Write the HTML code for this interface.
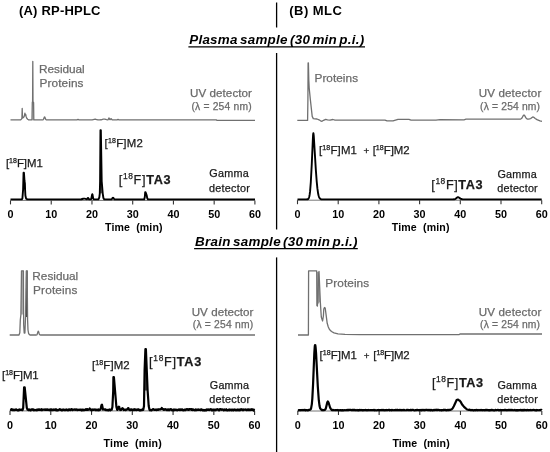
<!DOCTYPE html>
<html><head><meta charset="utf-8"><title>Chromatograms</title><style>
html,body{margin:0;padding:0;background:#fff;}
body{width:550px;height:452px;overflow:hidden;}
svg{display:block;will-change:transform;}
text{font-family:"Liberation Sans",sans-serif;}
.hd{font-weight:bold;fill:#000;}
.tt{font-weight:bold;font-style:italic;fill:#000;word-spacing:-1.8px;}
.tk{font-weight:bold;fill:#000;text-anchor:middle;}
.ax{font-weight:bold;fill:#000;}
.lb{fill:#1a1a1a;stroke:#1a1a1a;stroke-width:0.25px;}
.uvt{fill:#6a6a6a;stroke:#6a6a6a;stroke-width:0.25px;}
</style></head>
<body><svg width="550" height="452" viewBox="0 0 550 452">
<rect width="550" height="452" fill="#fff"/>
<text x="18.94" y="15.20" class="hd" font-size="13.00" letter-spacing="0.207">(A) RP-HPLC</text>
<text x="289.30" y="15.20" class="hd" font-size="13.00" letter-spacing="0.450">(B) MLC</text>
<text x="189.18" y="44.20" class="tt" font-size="13.40" letter-spacing="0.281">Plasma sample (30 min p.i.)</text>
<text x="195.04" y="245.60" class="tt" font-size="13.40" letter-spacing="0.296">Brain sample (30 min p.i.)</text>
<text x="39.05" y="73.00" class="uvt" font-size="11.80" letter-spacing="-0.046">Residual</text>
<text x="39.62" y="87.40" class="uvt" font-size="11.80" letter-spacing="0.075">Proteins</text>
<text x="190.01" y="96.70" class="uvt" font-size="11.60" letter-spacing="0.070">UV detector</text>
<text x="191.41" y="109.60" class="uvt" font-size="10.30" letter-spacing="0.194">(λ = 254 nm)</text>
<text x="5.88" y="167.30" class="lb" font-size="11.40" letter-spacing="-0.013">[<tspan dy="-3.93" font-size="7.07">18</tspan><tspan dy="3.93">F]M1</tspan></text>
<text x="104.55" y="146.70" class="lb" font-size="11.40" letter-spacing="0.207">[<tspan dy="-3.93" font-size="7.07">18</tspan><tspan dy="3.93">F]M2</tspan></text>
<text x="118.66" y="184.00" class="lb" font-size="12.70" letter-spacing="0.688">[<tspan dy="-4.70" font-size="8.38">18</tspan><tspan dy="4.70">F]</tspan><tspan font-weight="bold">TA3</tspan></text>
<text x="209.17" y="177.40" class="lb" font-size="10.80" letter-spacing="0.328">Gamma</text>
<text x="208.98" y="191.50" class="lb" font-size="10.80" letter-spacing="0.252">detector</text>
<text x="105.03" y="230.70" class="ax" font-size="10.60" letter-spacing="0.121">Time  (min)</text>
<text x="314.47" y="82.40" class="uvt" font-size="11.80" letter-spacing="0.042">Proteins</text>
<text x="478.69" y="96.70" class="uvt" font-size="11.60" letter-spacing="0.142">UV detector</text>
<text x="480.09" y="109.60" class="uvt" font-size="10.30" letter-spacing="0.170">(λ = 254 nm)</text>
<text x="318.95" y="153.90" class="lb" font-size="11.40" letter-spacing="0.165">[<tspan dy="-3.93" font-size="7.07">18</tspan><tspan dy="3.93">F]M1</tspan></text>
<text x="363.40" y="153.90" class="lb" font-size="9.80" letter-spacing="0.000">+</text>
<text x="372.67" y="153.90" class="lb" font-size="11.40" letter-spacing="0.006">[<tspan dy="-3.93" font-size="7.07">18</tspan><tspan dy="3.93">F]M2</tspan></text>
<text x="431.25" y="188.50" class="lb" font-size="12.70" letter-spacing="0.587">[<tspan dy="-4.70" font-size="8.38">18</tspan><tspan dy="4.70">F]</tspan><tspan font-weight="bold">TA3</tspan></text>
<text x="497.51" y="177.70" class="lb" font-size="10.80" letter-spacing="0.194">Gamma</text>
<text x="497.28" y="192.00" class="lb" font-size="10.80" letter-spacing="0.206">detector</text>
<text x="391.82" y="230.70" class="ax" font-size="10.60" letter-spacing="0.134">Time  (min)</text>
<text x="32.33" y="280.00" class="uvt" font-size="11.80" letter-spacing="-0.001">Residual</text>
<text x="33.12" y="294.20" class="uvt" font-size="11.80" letter-spacing="0.137">Proteins</text>
<text x="191.64" y="315.50" class="uvt" font-size="11.60" letter-spacing="0.062">UV detector</text>
<text x="192.82" y="328.30" class="uvt" font-size="10.30" letter-spacing="0.199">(λ = 254 nm)</text>
<text x="2.03" y="379.20" class="lb" font-size="11.40" letter-spacing="-0.050">[<tspan dy="-3.93" font-size="7.07">18</tspan><tspan dy="3.93">F]M1</tspan></text>
<text x="91.95" y="368.60" class="lb" font-size="11.40" letter-spacing="0.115">[<tspan dy="-3.93" font-size="7.07">18</tspan><tspan dy="3.93">F]M2</tspan></text>
<text x="149.04" y="365.50" class="lb" font-size="12.70" letter-spacing="0.725">[<tspan dy="-4.70" font-size="8.38">18</tspan><tspan dy="4.70">F]</tspan><tspan font-weight="bold">TA3</tspan></text>
<text x="209.82" y="388.70" class="lb" font-size="10.80" letter-spacing="0.196">Gamma</text>
<text x="209.28" y="403.00" class="lb" font-size="10.80" letter-spacing="0.261">detector</text>
<text x="103.54" y="447.20" class="ax" font-size="10.60" letter-spacing="0.195">Time  (min)</text>
<text x="325.26" y="287.20" class="uvt" font-size="11.80" letter-spacing="0.090">Proteins</text>
<text x="478.69" y="315.50" class="uvt" font-size="11.60" letter-spacing="0.145">UV detector</text>
<text x="480.09" y="328.40" class="uvt" font-size="10.30" letter-spacing="0.170">(λ = 254 nm)</text>
<text x="319.55" y="359.30" class="lb" font-size="11.40" letter-spacing="0.050">[<tspan dy="-3.93" font-size="7.07">18</tspan><tspan dy="3.93">F]M1</tspan></text>
<text x="363.81" y="359.30" class="lb" font-size="9.80" letter-spacing="0.000">+</text>
<text x="373.33" y="359.30" class="lb" font-size="11.40" letter-spacing="-0.112">[<tspan dy="-3.93" font-size="7.07">18</tspan><tspan dy="3.93">F]M2</tspan></text>
<text x="431.88" y="386.60" class="lb" font-size="12.70" letter-spacing="0.586">[<tspan dy="-4.70" font-size="8.38">18</tspan><tspan dy="4.70">F]</tspan><tspan font-weight="bold">TA3</tspan></text>
<text x="497.51" y="388.70" class="lb" font-size="10.80" letter-spacing="0.194">Gamma</text>
<text x="497.22" y="403.00" class="lb" font-size="10.80" letter-spacing="0.222">detector</text>
<text x="392.45" y="447.20" class="ax" font-size="10.60" letter-spacing="0.094">Time  (min)</text>
<line x1="276.6" y1="2.5" x2="276.6" y2="27.5" stroke="#000" stroke-width="1.3"/>
<line x1="276.6" y1="53" x2="276.6" y2="229.5" stroke="#000" stroke-width="1.3"/>
<line x1="276.6" y1="257.4" x2="276.6" y2="452" stroke="#000" stroke-width="1.3"/>
<line x1="188.4" y1="46.9" x2="365" y2="46.9" stroke="#000" stroke-width="1.4"/>
<line x1="194.1" y1="248.6" x2="357.8" y2="248.6" stroke="#000" stroke-width="1.4"/>
<polygon fill="#d0d0d0" stroke="none" points="32.30,102.50 33.60,102.50 33.80,119.90 32.00,119.90"/>
<polyline fill="none" stroke="#707070" stroke-width="1.30" stroke-linejoin="round" points="10.50,119.90 20.50,119.90 21.30,119.20 21.90,118.50 22.20,108.40 22.50,118.00 23.30,117.60 24.00,116.80 24.50,115.50 24.90,113.10 25.30,115.00 25.70,114.50 26.10,116.50 26.80,118.20 27.70,119.20 28.60,119.80 28.60,119.90 32.00,119.90 32.30,102.50 32.60,101.50 32.80,61.40 33.00,101.50 33.60,102.50 33.80,119.90 42.90,119.85 43.20,119.70 43.50,119.34 44.30,117.25 44.60,116.90 44.90,117.25 45.50,118.93 45.80,119.49 46.20,119.81 46.90,119.90 76.10,119.90 76.90,119.79 78.00,119.30 79.10,119.79 79.70,119.89 90.50,119.89 92.20,119.78 94.20,119.29 95.00,119.20 95.70,119.27 97.90,119.79 99.70,119.88 101.20,119.76 103.20,119.21 104.00,119.10 104.80,119.21 106.60,119.72 107.70,119.85 108.00,119.79 108.20,119.61 108.80,118.13 109.00,117.90 109.20,118.13 109.70,119.43 109.90,119.63 110.20,119.54 110.70,118.90 111.00,118.70 111.20,118.79 112.00,119.74 112.30,119.86 112.80,119.90 116.70,119.88 117.10,119.80 118.00,119.40 119.00,119.83 119.80,119.90 216.60,119.90 216.70,120.30 255.00,120.30"/>
<line x1="10.50" y1="200.40" x2="254.90" y2="200.40" stroke="#777" stroke-width="1.00"/>
<line x1="10.50" y1="200.40" x2="10.50" y2="204.40" stroke="#333" stroke-width="1.1"/>
<line x1="51.23" y1="200.40" x2="51.23" y2="204.40" stroke="#333" stroke-width="1.1"/>
<line x1="91.97" y1="200.40" x2="91.97" y2="204.40" stroke="#333" stroke-width="1.1"/>
<line x1="132.70" y1="200.40" x2="132.70" y2="204.40" stroke="#333" stroke-width="1.1"/>
<line x1="173.43" y1="200.40" x2="173.43" y2="204.40" stroke="#333" stroke-width="1.1"/>
<line x1="214.17" y1="200.40" x2="214.17" y2="204.40" stroke="#333" stroke-width="1.1"/>
<line x1="254.90" y1="200.40" x2="254.90" y2="204.40" stroke="#333" stroke-width="1.1"/>
<polygon fill="#6a6a6a" stroke="none" points="100.10,181.30 101.70,181.30 102.70,193.30 99.80,193.30"/>
<polyline fill="none" stroke="#000" stroke-width="1.90" stroke-linejoin="round" points="10.50,199.40 21.80,199.40 22.40,198.50 23.10,189.70 23.55,172.70 23.95,172.70 24.50,181.00 24.90,183.50 25.10,190.00 25.40,195.50 26.10,198.60 27.20,199.30 27.20,199.40 79.70,199.39 81.30,199.24 83.20,198.71 83.90,198.60 84.60,198.66 86.30,199.15 86.80,199.18 87.20,198.90 87.70,198.11 88.00,197.88 88.20,198.00 88.80,198.98 89.10,199.26 89.50,199.38 90.50,199.39 91.00,199.22 91.30,198.70 92.10,194.60 92.30,194.20 92.40,194.30 92.60,195.06 93.20,198.37 93.60,199.22 94.20,199.40 98.40,199.40 99.30,197.50 99.80,193.30 100.10,181.30 100.45,130.20 100.85,130.20 101.70,181.30 102.70,193.30 103.40,198.00 104.30,199.40 111.40,199.35 111.90,199.08 112.70,197.90 113.00,197.70 113.30,197.90 114.10,199.08 114.40,199.29 114.90,199.39 144.20,199.40 144.80,197.00 145.20,192.20 145.60,192.20 146.70,195.30 147.20,198.00 147.90,199.40 255.00,199.40"/>
<text x="10.50" y="217.60" class="tk" font-size="10.80">0</text>
<text x="51.23" y="217.60" class="tk" font-size="10.80">10</text>
<text x="91.97" y="217.60" class="tk" font-size="10.80">20</text>
<text x="132.70" y="217.60" class="tk" font-size="10.80">30</text>
<text x="173.43" y="217.60" class="tk" font-size="10.80">40</text>
<text x="214.17" y="217.60" class="tk" font-size="10.80">50</text>
<text x="254.90" y="217.60" class="tk" font-size="10.80">60</text>
<polyline fill="none" stroke="#707070" stroke-width="1.30" stroke-linejoin="round" points="297.30,120.40 307.60,120.40 307.90,100.00 308.10,63.00 308.40,63.00 308.80,80.00 309.20,88.00 310.40,100.00 312.20,116.40 313.30,118.60 315.00,118.90 317.00,119.00 319.00,119.80 320.50,120.80 322.00,121.30 323.50,120.30 325.70,119.30 327.50,119.90 330.00,120.20 333.00,119.50 335.00,120.10 385.00,120.10 387.00,120.90 393.00,120.90 398.00,119.30 409.00,119.30 411.00,120.10 436.00,120.10 440.00,119.70 464.00,119.80 466.00,119.20 519.50,119.19 520.70,119.03 521.50,118.54 522.10,117.76 523.40,115.42 523.70,115.11 524.00,115.00 524.30,115.11 524.70,115.57 525.80,117.59 526.30,118.32 526.70,118.71 527.20,119.00 528.40,119.17 529.80,118.97 530.70,118.52 532.40,117.17 532.80,117.02 533.20,117.02 533.80,117.29 535.20,118.45 537.00,119.60 540.00,120.90 542.00,121.40"/>
<line x1="297.50" y1="200.20" x2="541.70" y2="200.20" stroke="#777" stroke-width="1.00"/>
<line x1="297.50" y1="200.20" x2="297.50" y2="204.20" stroke="#333" stroke-width="1.1"/>
<line x1="338.20" y1="200.20" x2="338.20" y2="204.20" stroke="#333" stroke-width="1.1"/>
<line x1="378.90" y1="200.20" x2="378.90" y2="204.20" stroke="#333" stroke-width="1.1"/>
<line x1="419.60" y1="200.20" x2="419.60" y2="204.20" stroke="#333" stroke-width="1.1"/>
<line x1="460.30" y1="200.20" x2="460.30" y2="204.20" stroke="#333" stroke-width="1.1"/>
<line x1="501.00" y1="200.20" x2="501.00" y2="204.20" stroke="#333" stroke-width="1.1"/>
<line x1="541.70" y1="200.20" x2="541.70" y2="204.20" stroke="#333" stroke-width="1.1"/>
<polyline fill="none" stroke="#000" stroke-width="1.90" stroke-linejoin="round" points="297.50,199.40 306.10,199.40 307.50,199.29 308.10,199.02 308.60,198.47 309.00,197.59 309.30,196.54 309.70,194.40 310.10,191.17 310.80,182.26 311.80,163.45 312.90,138.23 313.10,134.79 313.30,133.25 313.40,133.28 313.50,133.65 313.80,136.47 315.80,169.43 316.70,181.29 317.40,188.38 318.10,193.28 318.50,195.21 318.90,196.61 319.30,197.60 319.80,198.40 320.30,198.87 321.00,199.20 322.10,199.36 324.20,199.40 452.80,199.39 454.10,199.31 455.00,199.06 455.70,198.65 457.20,197.43 457.90,197.20 458.80,197.46 460.50,198.62 461.30,199.03 462.30,199.29 463.60,199.39 541.70,199.40"/>
<text x="297.50" y="217.60" class="tk" font-size="10.80">0</text>
<text x="338.20" y="217.60" class="tk" font-size="10.80">10</text>
<text x="378.90" y="217.60" class="tk" font-size="10.80">20</text>
<text x="419.60" y="217.60" class="tk" font-size="10.80">30</text>
<text x="460.30" y="217.60" class="tk" font-size="10.80">40</text>
<text x="501.00" y="217.60" class="tk" font-size="10.80">50</text>
<text x="541.70" y="217.60" class="tk" font-size="10.80">60</text>
<polygon fill="#b0b0b0" stroke="none" points="21.20,270.80 23.70,270.80 23.80,314.60 21.00,314.60"/>
<polygon fill="#505050" stroke="none" points="26.00,270.80 27.60,270.80 27.70,291.00 25.90,291.00"/>
<polygon fill="#3c3c3c" stroke="none" points="25.90,291.00 27.70,291.00 27.80,317.00 25.70,317.00"/>
<polyline fill="none" stroke="#707070" stroke-width="1.30" stroke-linejoin="round" points="9.70,335.00 19.00,335.00 19.80,332.70 20.30,320.00 20.90,314.60 21.50,270.80 23.40,270.80 23.50,300.00 23.70,325.00 24.20,333.00 24.90,333.00 25.60,315.00 26.30,270.80 27.30,270.80 27.40,300.00 27.60,320.00 28.00,330.00 28.70,333.80 30.00,335.00 36.00,335.00 36.70,334.89 37.00,334.64 37.20,334.29 38.00,331.65 38.30,331.20 38.60,331.65 39.20,333.77 39.50,334.49 39.90,334.89 40.60,335.00 255.00,335.00"/>
<line x1="10.00" y1="410.90" x2="254.60" y2="410.90" stroke="#777" stroke-width="1.00"/>
<line x1="10.00" y1="410.90" x2="10.00" y2="414.90" stroke="#333" stroke-width="1.1"/>
<line x1="50.77" y1="410.90" x2="50.77" y2="414.90" stroke="#333" stroke-width="1.1"/>
<line x1="91.53" y1="410.90" x2="91.53" y2="414.90" stroke="#333" stroke-width="1.1"/>
<line x1="132.30" y1="410.90" x2="132.30" y2="414.90" stroke="#333" stroke-width="1.1"/>
<line x1="173.07" y1="410.90" x2="173.07" y2="414.90" stroke="#333" stroke-width="1.1"/>
<line x1="213.83" y1="410.90" x2="213.83" y2="414.90" stroke="#333" stroke-width="1.1"/>
<line x1="254.60" y1="410.90" x2="254.60" y2="414.90" stroke="#333" stroke-width="1.1"/>
<polygon fill="#505050" stroke="none" points="144.60,370.30 146.90,370.30 147.60,390.40 144.40,390.40"/>
<polyline fill="none" stroke="#000" stroke-width="2.20" stroke-linejoin="round" points="10.00,409.56 11.00,409.92 11.50,409.20 11.75,409.80 12.25,409.45 12.50,410.07 13.50,410.00 13.75,409.59 14.25,410.14 15.00,410.11 15.25,409.56 15.75,409.94 16.25,409.32 16.50,409.89 16.75,409.82 17.25,410.24 17.75,410.39 18.00,410.00 18.25,410.17 18.50,409.94 19.00,410.37 19.25,409.72 19.75,409.36 20.00,410.00 21.50,409.60 22.25,410.20 22.50,410.16 23.20,407.90 24.10,387.30 24.70,387.30 26.80,407.90 27.60,409.70 28.00,409.46 28.50,410.17 28.75,409.58 29.00,409.79 29.25,409.39 29.50,409.79 29.75,409.64 30.25,410.36 30.50,410.09 30.75,410.39 31.25,409.48 31.50,409.73 32.00,409.30 32.50,409.73 33.00,409.22 33.25,409.84 33.50,409.65 34.00,410.33 34.50,409.84 35.75,409.97 36.00,410.28 36.50,409.86 36.75,410.03 37.25,409.56 37.50,410.11 38.00,409.93 38.25,409.43 38.75,409.74 39.00,409.34 39.50,409.86 39.75,409.43 40.00,409.73 40.50,409.93 40.75,409.73 41.25,410.09 41.75,409.26 42.25,410.16 42.50,409.76 43.00,409.85 43.75,409.54 44.25,409.76 44.75,409.59 45.00,409.94 45.25,409.44 45.75,409.95 46.25,409.50 46.50,409.93 47.00,409.43 47.50,409.86 47.75,409.47 48.25,409.49 48.50,409.94 48.75,409.82 49.00,410.13 49.50,409.59 50.00,410.16 50.75,409.37 51.00,409.61 51.25,409.43 51.75,410.15 52.25,409.55 53.00,410.18 53.75,409.46 54.00,409.89 54.50,409.58 55.25,409.64 55.50,410.10 56.00,409.27 56.75,410.44 57.00,410.06 57.50,410.45 57.75,409.88 58.25,410.23 58.50,410.16 59.75,409.24 60.50,409.93 60.75,409.46 61.00,409.99 62.00,410.47 62.50,409.56 62.75,409.90 63.25,409.50 63.50,409.80 64.00,409.73 64.25,410.16 65.00,409.58 65.25,410.01 65.50,409.89 65.75,410.10 66.25,409.54 66.75,410.03 67.00,409.62 67.50,410.27 68.00,410.35 68.25,409.63 68.75,410.14 69.00,409.57 69.50,409.43 70.50,410.00 71.00,409.22 71.75,409.09 72.25,410.15 72.50,409.60 73.50,409.53 74.00,409.88 75.00,409.30 75.50,409.90 76.25,409.31 77.00,410.01 77.25,409.80 77.50,410.07 78.25,409.72 79.25,409.98 79.75,409.60 80.25,409.94 80.50,409.49 81.00,409.62 81.50,410.32 81.75,409.95 82.25,410.28 83.00,409.45 83.25,409.91 84.00,410.29 84.75,410.06 85.00,409.57 85.25,409.77 85.75,409.25 86.00,409.77 86.75,409.15 87.00,409.82 87.50,409.23 87.75,409.81 88.00,409.42 88.25,409.81 88.75,409.67 89.50,409.06 89.75,408.51 90.50,409.74 90.75,409.43 91.25,410.23 91.50,409.62 91.75,409.55 92.25,410.06 93.00,409.41 93.50,409.98 94.00,409.68 94.75,409.62 95.00,409.34 95.50,410.11 95.75,409.88 96.00,410.06 96.25,409.62 96.75,410.07 97.50,409.87 98.00,410.24 98.50,409.39 99.00,410.18 99.50,409.85 99.75,410.02 100.75,408.78 101.50,405.05 102.00,404.67 103.00,409.53 103.75,409.21 104.00,409.49 105.00,409.47 105.25,409.88 105.50,409.52 105.75,410.10 106.50,409.85 107.00,410.25 107.50,409.92 108.00,410.25 108.25,409.94 108.75,410.35 109.50,409.50 110.50,410.37 111.00,409.55 111.50,409.35 111.70,409.70 112.40,407.00 113.20,391.40 113.40,377.20 113.90,377.20 116.40,407.00 117.25,409.87 117.50,409.81 118.25,408.27 118.50,406.90 118.75,406.62 119.25,406.92 119.50,408.42 120.25,410.08 120.50,409.78 121.25,409.96 121.50,409.23 122.25,408.23 122.50,408.20 122.75,408.24 123.75,409.98 124.25,409.60 124.75,409.93 125.00,409.58 125.25,410.04 125.50,410.06 125.75,409.59 126.00,410.08 126.25,409.60 127.00,409.55 128.25,408.06 128.50,408.17 129.00,409.61 129.50,410.02 130.25,409.59 130.50,410.03 130.75,409.50 131.00,409.66 131.25,409.50 131.50,409.89 132.25,409.62 132.75,410.02 133.00,409.78 133.25,410.10 133.50,409.60 134.25,409.19 134.75,409.98 135.25,409.42 136.25,410.19 136.75,409.62 137.25,409.43 137.75,409.78 138.25,409.44 138.50,409.87 138.75,409.41 139.50,410.40 140.00,409.94 140.50,409.99 140.75,410.33 141.25,409.83 141.50,410.14 141.75,409.96 142.25,410.09 142.50,409.50 142.75,409.89 143.25,409.89 144.00,406.00 144.60,370.30 145.40,349.20 145.90,349.20 147.60,390.40 148.70,406.00 149.50,409.70 150.00,410.29 150.50,410.24 150.75,409.88 151.50,410.40 153.00,409.15 153.50,409.20 154.00,409.83 154.75,409.91 155.00,409.68 155.50,409.99 156.00,409.51 156.50,410.11 157.00,409.70 157.50,409.88 158.00,409.25 158.25,409.26 158.50,409.79 158.75,409.47 159.00,409.60 159.75,409.28 160.00,409.45 161.00,408.86 161.25,408.92 161.75,407.99 162.50,408.99 162.75,408.87 163.25,409.43 163.50,409.21 163.75,409.93 164.25,409.34 164.50,409.55 164.75,409.37 165.00,409.70 165.75,409.18 166.00,409.69 166.25,409.55 167.00,410.21 167.50,409.59 167.75,409.48 168.25,409.98 168.75,409.41 169.25,410.21 170.00,409.23 171.00,409.03 171.50,410.04 171.75,409.65 172.00,410.15 172.25,409.95 173.00,410.47 173.25,409.72 173.50,409.58 174.00,410.20 174.25,409.63 174.50,409.53 174.75,409.98 175.00,409.54 175.50,409.54 176.00,410.20 176.25,409.71 177.00,410.25 177.25,410.07 177.50,410.32 178.25,409.55 178.50,409.93 179.25,409.41 180.00,410.04 180.75,409.49 181.00,409.83 181.25,409.39 182.00,410.02 182.50,409.44 182.75,409.93 183.50,410.35 183.75,410.03 184.25,410.25 185.00,409.37 185.50,410.06 185.75,409.57 186.00,409.75 186.50,409.23 186.75,409.65 187.50,409.21 188.00,409.79 188.50,409.30 188.75,409.90 189.50,409.15 190.50,409.45 191.25,409.14 191.50,409.77 192.00,409.20 192.25,409.92 192.50,409.59 192.75,410.05 193.00,409.55 193.50,409.47 193.75,409.93 194.75,410.31 195.75,409.46 196.00,409.93 196.50,410.16 196.75,409.71 197.50,409.99 197.75,409.51 198.25,409.65 198.50,409.34 199.00,409.92 199.75,409.96 200.25,409.58 200.50,410.13 201.25,409.40 201.75,409.27 202.00,409.92 202.75,410.47 203.00,410.24 203.25,410.41 203.75,409.89 204.50,410.50 205.25,409.92 205.75,410.43 206.00,409.93 206.25,410.26 206.75,409.41 207.00,409.80 207.25,409.62 207.75,409.89 208.00,409.43 208.25,409.84 209.00,409.58 209.50,410.08 210.00,409.42 210.50,409.53 211.00,409.23 212.00,410.49 212.25,410.48 212.75,409.61 213.00,409.53 213.75,409.81 214.00,409.68 214.25,410.06 214.75,409.73 215.25,410.23 215.75,409.59 216.00,409.97 216.50,409.29 217.00,409.72 217.50,409.22 219.00,410.46 219.25,409.71 219.75,409.20 220.25,409.47 220.50,409.23 220.75,409.56 221.00,409.31 221.50,409.37 221.75,409.85 222.50,409.27 223.75,410.30 224.25,409.48 224.75,410.10 225.00,409.96 225.25,410.18 226.25,409.20 227.00,410.30 227.25,410.02 228.00,410.34 229.25,409.38 229.75,410.22 230.50,409.69 231.00,410.02 231.25,409.87 231.50,410.25 232.00,409.59 232.50,409.68 233.25,410.40 233.75,409.58 234.25,409.82 234.75,409.60 235.25,410.22 235.50,409.65 235.75,409.88 236.25,409.77 236.75,410.39 237.25,409.74 237.50,410.15 237.75,409.69 238.00,409.64 238.25,410.01 238.75,409.56 239.25,410.34 240.25,409.36 240.50,409.35 240.75,410.01 241.00,409.53 241.75,409.19 242.50,410.14 243.00,410.23 243.25,409.57 243.50,409.49 243.75,410.06 244.00,409.54 244.75,409.50 245.00,409.69 245.50,409.33 245.75,409.98 246.00,409.57 246.25,410.05 246.50,409.63 246.75,410.16 247.25,410.10 247.75,409.31 248.00,409.79 248.50,409.37 249.00,410.18 249.25,409.58 249.50,410.11 250.25,409.44 250.50,409.52 250.75,410.10 251.25,409.44 251.75,409.22 252.25,409.96 252.75,409.37 253.50,410.50 254.00,409.73 254.25,410.17 254.50,409.97"/>
<text x="10.00" y="428.60" class="tk" font-size="10.80">0</text>
<text x="50.77" y="428.60" class="tk" font-size="10.80">10</text>
<text x="91.53" y="428.60" class="tk" font-size="10.80">20</text>
<text x="132.30" y="428.60" class="tk" font-size="10.80">30</text>
<text x="173.07" y="428.60" class="tk" font-size="10.80">40</text>
<text x="213.83" y="428.60" class="tk" font-size="10.80">50</text>
<text x="254.60" y="428.60" class="tk" font-size="10.80">60</text>
<polygon fill="#a0a0a0" stroke="none" points="316.90,272.00 319.10,272.00 320.30,301.60 317.20,305.00"/>
<polyline fill="none" stroke="#707070" stroke-width="1.30" stroke-linejoin="round" points="298.00,335.00 308.40,335.00 308.60,270.90 316.70,270.90 316.90,305.50 317.40,306.00 318.00,295.00 318.60,275.00 319.00,271.40 320.30,301.60 321.30,317.00 322.60,321.00 323.40,316.00 323.80,309.00 324.50,307.50 325.20,308.00 327.20,323.30 328.30,327.00 329.50,329.50 331.50,331.50 334.00,332.90 338.00,333.80 345.00,334.30 360.00,334.60 459.00,334.60 460.00,334.00 542.00,334.00"/>
<line x1="297.80" y1="411.00" x2="541.80" y2="411.00" stroke="#777" stroke-width="1.00"/>
<line x1="297.80" y1="411.00" x2="297.80" y2="415.00" stroke="#333" stroke-width="1.1"/>
<line x1="338.47" y1="411.00" x2="338.47" y2="415.00" stroke="#333" stroke-width="1.1"/>
<line x1="379.13" y1="411.00" x2="379.13" y2="415.00" stroke="#333" stroke-width="1.1"/>
<line x1="419.80" y1="411.00" x2="419.80" y2="415.00" stroke="#333" stroke-width="1.1"/>
<line x1="460.47" y1="411.00" x2="460.47" y2="415.00" stroke="#333" stroke-width="1.1"/>
<line x1="501.13" y1="411.00" x2="501.13" y2="415.00" stroke="#333" stroke-width="1.1"/>
<line x1="541.80" y1="411.00" x2="541.80" y2="415.00" stroke="#333" stroke-width="1.1"/>
<polyline fill="none" stroke="#000" stroke-width="2.20" stroke-linejoin="round" points="297.80,410.15 299.05,410.38 299.30,410.05 299.55,410.06 300.30,410.33 300.55,410.06 301.55,410.11 302.05,409.89 302.80,410.24 303.05,410.03 303.30,410.19 304.30,409.83 304.55,410.11 305.05,409.93 305.55,410.30 305.80,410.12 306.05,410.29 306.80,410.05 307.80,410.39 309.05,409.80 309.55,409.96 309.80,409.74 310.05,409.83 310.80,409.10 311.05,408.43 311.80,404.37 312.30,398.82 313.05,384.67 314.30,353.44 314.80,346.02 315.05,345.09 315.30,345.26 315.55,346.85 316.05,352.93 317.80,386.53 318.80,400.23 319.55,406.07 320.05,408.09 320.80,409.29 321.55,409.63 322.05,410.19 322.55,409.86 322.80,410.17 323.55,409.98 324.05,410.20 324.80,409.71 325.05,409.80 325.80,408.57 327.30,402.37 327.80,401.43 328.55,402.55 330.05,407.46 330.80,408.88 331.80,410.10 333.05,409.90 333.55,410.25 333.80,410.12 335.05,410.28 335.80,410.06 336.55,410.22 336.80,410.08 337.05,410.27 337.55,410.20 337.80,409.96 339.55,410.28 339.80,410.13 340.55,410.30 340.80,410.14 342.05,410.42 342.80,410.01 343.30,410.32 344.30,410.27 344.55,410.05 346.55,410.25 347.05,409.91 348.30,410.16 348.55,409.95 350.55,409.79 351.55,410.13 351.80,410.01 352.05,410.22 352.30,409.96 353.30,409.89 353.55,410.13 354.55,409.91 355.80,410.31 356.55,410.24 357.05,409.97 358.05,410.38 358.55,410.13 358.80,410.27 359.30,409.89 359.80,410.11 360.05,409.96 360.55,410.25 361.55,409.96 361.80,410.22 362.05,410.11 362.55,410.36 363.05,410.09 363.30,410.29 364.05,410.03 364.30,410.26 365.30,409.93 366.05,410.00 366.55,410.26 366.80,409.99 367.30,409.99 367.80,410.27 368.55,409.91 368.80,410.20 369.05,410.07 370.30,410.23 370.55,410.01 370.80,410.16 371.80,409.98 373.05,410.17 373.55,409.92 374.30,410.31 374.80,409.97 375.05,410.15 376.55,410.29 377.80,409.99 378.05,410.18 378.30,409.97 378.80,410.21 379.30,410.03 379.80,410.30 380.05,410.06 380.80,410.10 381.30,409.93 381.80,410.20 382.30,409.93 382.80,410.24 383.30,409.98 384.05,410.40 384.55,410.04 385.80,410.28 386.30,409.99 386.55,410.21 386.80,410.02 387.80,410.07 389.05,409.79 389.80,410.27 390.05,410.04 390.55,410.00 391.30,410.27 391.80,409.94 393.05,410.26 394.30,410.00 394.80,410.13 395.30,409.93 396.55,410.18 396.80,409.97 397.05,410.10 397.55,409.87 398.30,410.18 398.80,410.05 399.05,410.19 399.30,409.96 399.55,410.12 400.05,409.88 400.55,410.21 401.05,409.92 401.30,410.20 401.80,410.29 402.05,410.05 404.05,409.91 404.30,410.14 405.30,410.27 406.30,410.23 407.05,409.84 407.55,409.79 407.80,410.10 408.30,410.20 408.55,409.95 409.30,410.20 410.55,409.85 411.30,410.19 411.80,409.95 413.30,409.86 413.55,410.15 415.05,410.31 415.30,410.05 416.30,410.21 417.05,409.83 417.55,409.81 418.05,410.20 419.05,409.99 419.55,410.21 420.05,409.96 420.55,410.27 421.05,410.15 421.30,410.31 421.80,409.88 422.05,410.10 422.55,409.90 423.05,410.26 424.05,409.84 424.30,410.13 424.80,410.28 425.55,409.85 426.80,409.95 427.30,409.79 427.55,410.13 429.30,409.86 429.80,410.22 430.30,410.29 430.80,409.90 432.55,410.32 434.30,409.85 434.80,410.22 435.55,409.86 436.05,409.82 436.55,410.05 437.05,409.86 437.30,410.06 437.55,409.90 438.55,409.87 439.80,410.28 440.80,410.14 441.55,410.35 442.30,410.10 442.55,410.23 443.55,409.85 444.05,410.06 444.55,409.87 445.05,410.12 445.80,409.82 446.55,410.30 448.05,409.83 448.80,410.18 449.55,409.83 450.55,409.95 450.80,409.61 451.30,409.53 452.55,408.50 453.80,406.29 456.55,400.18 457.05,399.72 458.05,399.51 458.80,400.26 459.55,400.55 460.80,401.98 461.30,403.11 462.55,405.03 464.05,406.86 467.05,409.54 468.80,409.90 469.80,409.68 470.80,410.15 471.05,410.02 471.30,410.21 471.55,410.05 471.80,410.15 472.05,409.94 473.05,410.36 473.80,410.31 474.30,410.06 474.80,410.25 475.05,410.07 475.30,410.27 476.05,409.91 476.55,409.90 477.30,410.33 478.05,409.96 479.30,410.25 480.05,409.96 480.55,410.25 480.80,410.04 481.30,410.22 481.80,409.90 482.55,410.30 483.30,410.10 483.80,410.27 484.30,410.01 484.80,410.29 485.55,409.84 486.05,410.09 486.55,409.91 487.55,410.24 487.80,409.99 488.55,410.33 488.80,410.14 489.55,410.34 489.80,410.11 490.30,410.28 491.55,409.82 494.05,410.41 494.55,410.39 495.30,409.84 496.55,410.21 496.80,409.99 497.80,409.91 499.30,410.37 499.55,410.07 500.05,410.23 500.55,409.94 501.55,410.29 502.05,410.04 502.80,410.25 503.55,410.02 503.80,410.20 504.30,409.95 505.05,410.09 505.80,409.85 506.30,410.23 506.80,410.09 507.05,410.27 507.30,410.02 507.80,410.18 508.05,409.94 508.30,410.13 508.80,409.89 509.80,410.05 510.30,409.89 510.55,410.18 511.55,409.93 512.05,410.22 512.55,409.95 513.80,410.28 514.30,410.23 514.80,409.85 515.05,410.08 516.05,410.36 516.30,410.18 517.05,410.37 517.30,410.09 518.30,410.40 519.05,410.00 519.80,410.11 520.80,409.87 521.55,410.29 522.05,409.89 522.55,410.30 523.30,409.96 523.80,410.32 524.30,409.94 525.55,410.19 525.80,410.01 526.30,410.27 527.05,409.90 528.55,410.29 529.30,410.02 530.55,410.15 530.80,409.93 531.05,410.12 532.05,410.24 532.30,409.99 533.55,409.84 534.55,410.27 535.05,410.13 536.05,410.44 536.55,410.01 536.80,410.23 537.05,410.00 539.05,410.24 539.30,410.03 540.05,410.10 541.05,409.83 541.55,409.86 541.80,410.17"/>
<text x="297.80" y="428.60" class="tk" font-size="10.80">0</text>
<text x="338.47" y="428.60" class="tk" font-size="10.80">10</text>
<text x="379.13" y="428.60" class="tk" font-size="10.80">20</text>
<text x="419.80" y="428.60" class="tk" font-size="10.80">30</text>
<text x="460.47" y="428.60" class="tk" font-size="10.80">40</text>
<text x="501.13" y="428.60" class="tk" font-size="10.80">50</text>
<text x="541.80" y="428.60" class="tk" font-size="10.80">60</text>
</svg></body></html>
